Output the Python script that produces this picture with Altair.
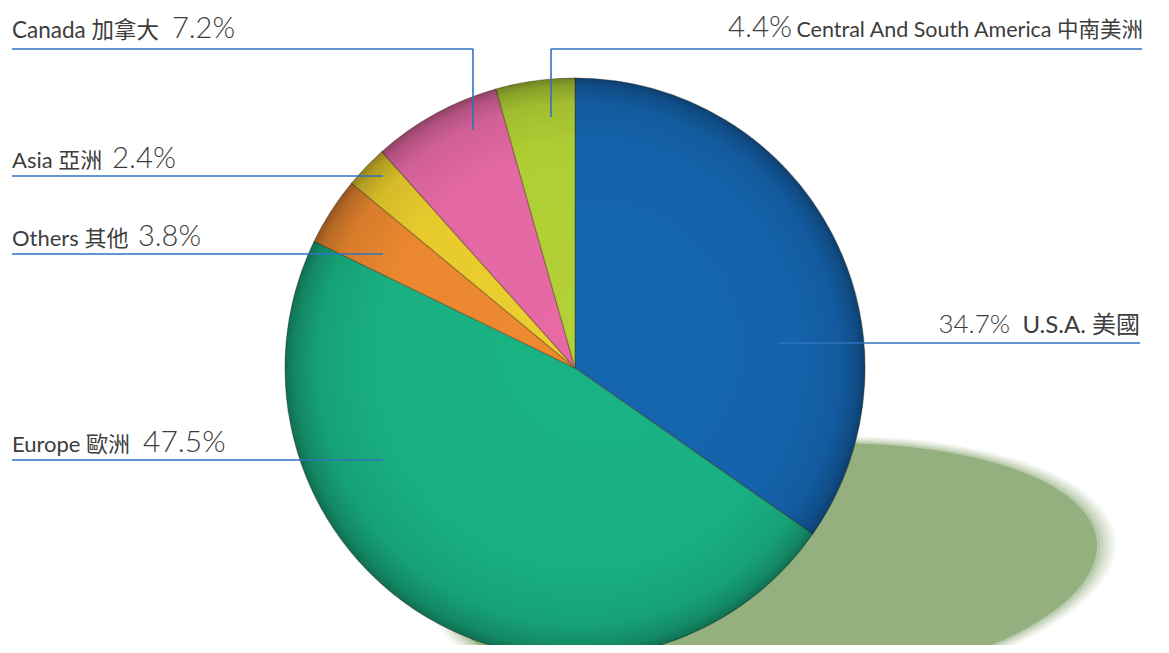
import altair as alt
import pandas as pd

# ---------------- data ----------------
regions = ["U.S.A.", "Europe", "Others", "Asia", "Canada", "Central And South America"]
names_zh = ["美國", "歐洲", "其他", "亞洲", "加拿大", "中南美洲"]
shares = [34.7, 47.5, 3.8, 2.4, 7.2, 4.4]
colors = ["#1565b0", "#19b384", "#ef8a30", "#eccf2e", "#e86aa6", "#b3d235"]

# ---------------- layout (screen coordinates) ----------------
W, H, OFF = 1153, 637, 8
PIE_CX, PIE_CY, PIE_R = 575, 368, 290
label_side = ["right", "left", "left", "left", "left", "right"]
name_x = [1140, 12, 12, 12, 12, 1143]
pct_x = [1010, 143, 138, 112, 172, 792]
base_y = [333, 452, 246, 168, 38, 37]
name_size = [24, 22, 22, 22, 22.5, 21.5]
pct_size = [26, 30, 29, 29.5, 29, 29.5]
segments = [
    (778, 343, 1140, 343),
    (12, 460, 383, 460),
    (12, 254, 383, 254),
    (12, 176, 383, 176),
    (12, 49, 473, 49), (473, 49, 473, 130),
    (551, 49, 1142, 49), (551, 49, 551, 117),
]
SH_CX, SH_CY, SH_A, SH_RATIO, SH_ANGLE = 772, 570, 326, 0.38, 355
shadow_steps = [1.06, 1.05, 1.04, 1.03, 1.02, 1.01, 1.0]
shadow_alpha = [0.08, 0.1, 0.12, 0.15, 0.2, 0.3, 1.0]

xs = alt.Scale(domain=[OFF, W + OFF], range=[0, W], nice=False, zero=False)
ys = alt.Scale(domain=[OFF, H + OFF], range=[0, H], nice=False, zero=False)
X = lambda f: alt.X(f, type="quantitative", scale=xs, axis=None)
Y = lambda f: alt.Y(f, type="quantitative", scale=ys, axis=None)

pie_df = pd.DataFrame({"region": regions, "value": shares, "order": list(range(len(regions)))})

rows = []
for i, r in enumerate(regions):
    rows.append({"name": r + " " + names_zh[i], "pct": f"{shares[i]}%", "side": label_side[i],
                 "nx": name_x[i], "px": pct_x[i], "y": base_y[i],
                 "ns": name_size[i], "ps": pct_size[i]})
lab_df = pd.DataFrame(rows)
left_df = lab_df[lab_df.side == "left"]
right_df = lab_df[lab_df.side == "right"]

seg_df = pd.DataFrame(segments, columns=["x1", "y1", "x2", "y2"])

shadow_df = pd.DataFrame({
    "x": [SH_CX] * len(shadow_steps),
    "y": [SH_CY] * len(shadow_steps),
    "size": [(2 * SH_A * s) ** 2 for s in shadow_steps],
    "alpha": shadow_alpha,
})
ell = f"M-1,0A1,{SH_RATIO},0,1,1,1,0A1,{SH_RATIO},0,1,1,-1,0Z"

shadow = alt.Chart(shadow_df).mark_point(shape=ell, filled=True, color="#93b07e", strokeWidth=0,
                                         angle=SH_ANGLE).encode(
    x=X("x"), y=Y("y"),
    size=alt.Size("size:Q", scale=None, legend=None),
    opacity=alt.Opacity("alpha:Q", scale=None, legend=None),
)

pie = alt.Chart(pie_df).mark_arc(radius=PIE_R, stroke="#3a2a10", strokeWidth=1.2, strokeOpacity=0.35).encode(
    theta=alt.Theta("value:Q", stack=True),
    order=alt.Order("order:Q"),
    color=alt.Color("region:N", scale=alt.Scale(domain=regions, range=colors), legend=None),
    x=alt.value(PIE_CX - OFF), y=alt.value(PIE_CY - OFF),
)

shade_grad = {
    "gradient": "radial", "x1": 0.57, "y1": 0.43, "r1": 0, "x2": 0.5, "y2": 0.5, "r2": 0.5,
    "stops": [
        {"offset": 0, "color": "rgba(0,0,0,0)"},
        {"offset": 0.72, "color": "rgba(0,0,0,0.02)"},
        {"offset": 0.9, "color": "rgba(0,0,0,0.1)"},
        {"offset": 0.97, "color": "rgba(0,0,0,0.24)"},
        {"offset": 1, "color": "rgba(0,0,0,0.38)"},
    ],
}
shade = alt.Chart(pd.DataFrame({"k": [1]})).mark_arc(
    radius=PIE_R, theta=0, theta2=6.2832, fill=shade_grad, strokeWidth=0
).encode(x=alt.value(PIE_CX - OFF), y=alt.value(PIE_CY - OFF))

rules = alt.Chart(seg_df).mark_rule(color="#2f72bf", strokeWidth=1.6).encode(
    x=X("x1"), y=Y("y1"), x2="x2:Q", y2="y2:Q"
)

FONT = "Lato, 'Noto Sans CJK TC', sans-serif"
TXT = "#3d3d3d"

def names(df, align):
    return alt.Chart(df).mark_text(align=align, baseline="alphabetic", font=FONT,
                                   color=TXT).encode(
        x=X("nx"), y=Y("y"), text="name:N", size=alt.Size("ns:Q", scale=None, legend=None))

def pcts(df, align):
    return alt.Chart(df).mark_text(align=align, baseline="alphabetic", font=FONT,
                                   fontWeight=300, color=TXT).encode(
        x=X("px"), y=Y("y"), text="pct:N", size=alt.Size("ps:Q", scale=None, legend=None))

chart = alt.layer(
    shadow, pie, shade, rules,
    names(left_df, "left"), pcts(left_df, "left"),
    names(right_df, "right"), pcts(right_df, "right"),
).properties(
    width=W, height=H, padding=0, autosize=alt.AutoSizeParams(type="none"), background="white"
).configure_view(stroke=None)

chart.save("out.html", embed_options={"renderer": "svg", "actions": False})
